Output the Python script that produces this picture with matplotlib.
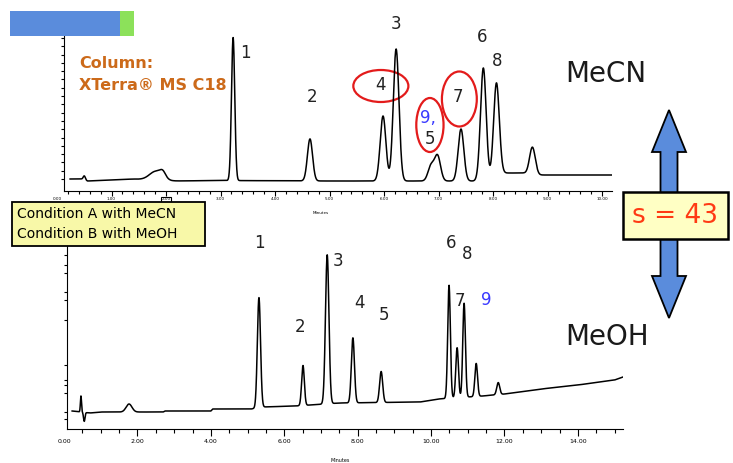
import numpy as np
import matplotlib
matplotlib.use("Agg")
import matplotlib.pyplot as plt
from matplotlib.patches import Ellipse, Rectangle, Polygon
from matplotlib.ticker import MultipleLocator, FormatStrFormatter

W, H = 733, 463

# --- MeCN run (top trace): peak table
# retention time (min), height above baseline (arb. units), peak sigma (min)
mecn_rt = [0.50, 1.82, 1.94, 3.23, 4.64, 5.98, 6.22, 6.86, 6.98, 7.41, 7.82, 8.06, 8.72]
mecn_h = [4, 9, 5, 143, 42, 65, 132, 15, 25, 52, 113, 93, 27]
mecn_sig = [0.02, 0.12, 0.05, 0.03, 0.047, 0.052, 0.052, 0.055, 0.055, 0.052, 0.052, 0.052, 0.052]
mecn_base_t = [0.24, 0.45, 0.56, 1.0, 1.4, 2.1, 3.0, 5.0, 6.5, 7.9, 8.15, 8.55, 8.85, 10.18]
mecn_base_v = [12, 12, 10, 11, 12, 10, 10.5, 10, 10, 10, 18, 18, 16, 16]

# --- MeOH run (bottom trace)
meoh_rt = [0.46, 0.55, 1.77, 5.31, 6.51, 7.17, 7.87, 8.64, 10.49, 10.71, 10.90, 11.23, 11.83]
meoh_h = [16, -9, 8, 110, 40, 149, 65, 31, 113, 50, 94, 33, 12]
meoh_sig = [0.015, 0.02, 0.08, 0.043, 0.037, 0.047, 0.042, 0.042, 0.036, 0.036, 0.036, 0.036, 0.04]
meoh_base_t = [0.22, 0.7, 1.0, 2.7, 2.75, 4.0, 4.05, 5.1, 5.4, 6.3, 6.7, 7.5, 9.7, 10.2, 11.4, 12.0, 13.0, 14.0, 15.0, 15.23]
meoh_base_v = [18, 16, 17, 17, 18, 18, 20, 20, 22, 23, 24, 26, 27, 30, 33, 35, 40, 44, 49, 52]

# peak number labels: text, time, level
mecn_lab = ["1", "2", "3", "4", "9,", "5", "7", "6", "8"]
mecn_lab_t = [3.45, 4.68, 6.22, 5.94, 6.81, 6.84, 7.36, 7.80, 8.07]
mecn_lab_v = [138, 94, 167, 106, 73, 52, 94, 154, 130]
meoh_lab = ["1", "2", "3", "4", "5", "6", "8", "7", "9"]
meoh_lab_t = [5.31, 6.43, 7.47, 8.04, 8.72, 10.54, 10.98, 10.79, 11.50]
meoh_lab_v = [186, 102, 168, 126, 114, 186, 175, 128, 129]


def trace(t, rt, h, sig, bt, bv):
    y = np.interp(t, bt, bv)
    for r, hh, s in zip(rt, h, sig):
        y = y + hh * np.exp(-0.5 * ((t - r) / s) ** 2)
    return y


def px_axes(fig, left, top, right, bottom):
    return fig.add_axes([left / W, 1 - bottom / H, (right - left) / W, (bottom - top) / H])


fig = plt.figure(figsize=(W / 100, H / 100), dpi=100)
fig.patch.set_facecolor("white")

# ---------------- top chromatogram
ax1 = px_axes(fig, 64, 29, 612, 191)
t1 = np.linspace(mecn_base_t[0], mecn_base_t[-1], 4000)
ax1.plot(t1, trace(t1, mecn_rt, mecn_h, mecn_sig, mecn_base_t, mecn_base_v), color="black", lw=1.1)
ax1.set_xlim(0.128, 10.18)
ax1.set_ylim(0, 162)
ax1.spines[["top", "right"]].set_visible(False)
ax1.set_xticks(np.arange(1, 11))
ax1.set_xticklabels(["%.2f" % v for v in range(1, 11)])
ax1.xaxis.set_minor_locator(MultipleLocator(0.2))
ax1.set_yticks(np.arange(12, 163, 8.3))
ax1.set_yticklabels([])
ax1.tick_params(axis="x", which="major", length=3.5, width=0.8, labelsize=3, pad=1)
ax1.tick_params(axis="x", which="minor", length=2.2, width=0.8)
ax1.tick_params(axis="y", length=2.2, width=0.8)
ax1.get_xticklabels()[1].set_bbox(dict(boxstyle="square,pad=0.15", fc="white", ec="black", lw=0.8))
ax1.text(0, -6, "0.00", fontsize=3, ha="center", va="top", clip_on=False)

for s, x, y in zip(mecn_lab, mecn_lab_t, mecn_lab_v):
    ax1.text(x, y, s, fontsize=12, ha="center", va="center", clip_on=False,
             color="#3a3aff" if s == "9," else "#222222")
for cx, cy, w, h in [(5.94, 105, 1.01, 32), (6.84, 66, 0.50, 54), (7.38, 92, 0.64, 55)]:
    ax1.add_patch(Ellipse((cx, cy), w, h, fill=False, ec="#e31b1b", lw=1.6, clip_on=False))

# ---------------- bottom chromatogram
ax2 = px_axes(fig, 67, 245, 623, 429)
t2 = np.linspace(meoh_base_t[0], meoh_base_t[-1], 6000)
ax2.plot(t2, trace(t2, meoh_rt, meoh_h, meoh_sig, meoh_base_t, meoh_base_v), color="black", lw=1.1)
ax2.set_xlim(0.08, 15.23)
ax2.set_ylim(0, 184)
ax2.spines[["top", "right"]].set_visible(False)
ax2.xaxis.set_major_locator(MultipleLocator(2))
ax2.xaxis.set_minor_locator(MultipleLocator(0.5))
ax2.xaxis.set_major_formatter(FormatStrFormatter("%.2f"))
ax2.set_yticks([10, 17, 36, 44, 49, 64, 109, 129, 137, 156, 164, 174])
ax2.set_yticklabels([])
ax2.tick_params(axis="x", which="major", length=5, width=0.8, labelsize=4.5, pad=2.5)
ax2.tick_params(axis="x", which="minor", length=3, width=0.8)
ax2.tick_params(axis="y", length=2.5, width=0.8)
ax2.text(0, -10, "0.00", fontsize=4.5, ha="center", va="top", clip_on=False)

for s, x, y in zip(meoh_lab, meoh_lab_t, meoh_lab_v):
    ax2.text(x, y, s, fontsize=12, ha="center", va="center", clip_on=False,
             color="#3a3aff" if s == "9" else "#222222")

# ---------------- overlay decorations in pixel coordinates
ov = fig.add_axes([0, 0, 1, 1], zorder=10)
ov.set_xlim(0, W)
ov.set_ylim(H, 0)
ov.axis("off")
ov.patch.set_alpha(0)

ov.add_patch(Rectangle((10, 11), 110, 25, fc="#5a8cdc", ec="none"))
ov.add_patch(Rectangle((120, 11), 14, 25, fc="#8ce15a", ec="none"))

ov.text(79, 63, "Column:", fontsize=11.5, fontweight="bold", color="#cc6a1a", va="center")
ov.text(79, 85, "XTerra® MS C18", fontsize=11.5, fontweight="bold", color="#cc6a1a", va="center")

ov.text(606, 74, "MeCN", fontsize=20, color="#1a1a1a", ha="center", va="center")
ov.text(607, 337, "MeOH", fontsize=20, color="#1a1a1a", ha="center", va="center")

ov.text(321, 213, "Minutes", fontsize=3, ha="center", va="center")
ov.text(340, 460, "Minutes", fontsize=3.5, ha="center", va="center")

ov.add_patch(Rectangle((12, 202), 193, 44, fc="#f8f8a8", ec="black", lw=1.3))
ov.text(17, 214, "Condition A with MeCN", fontsize=10, va="center")
ov.text(17, 234, "Condition B with MeOH", fontsize=10, va="center")

cx = 669
arrow = [(cx, 110), (cx + 17, 152), (cx + 8.5, 152), (cx + 8.5, 276), (cx + 17, 276),
         (cx, 318), (cx - 17, 276), (cx - 8.5, 276), (cx - 8.5, 152), (cx - 17, 152)]
ov.add_patch(Polygon(arrow, closed=True, fc="#5a8cdc", ec="black", lw=1.3))
ov.add_patch(Rectangle((623, 192), 105, 47, fc="#ffffc4", ec="black", lw=1.8))
ov.text(675, 216, "s = 43", fontsize=19, color="#ff3a14", ha="center", va="center")

fig.savefig("out.png", dpi=100)
